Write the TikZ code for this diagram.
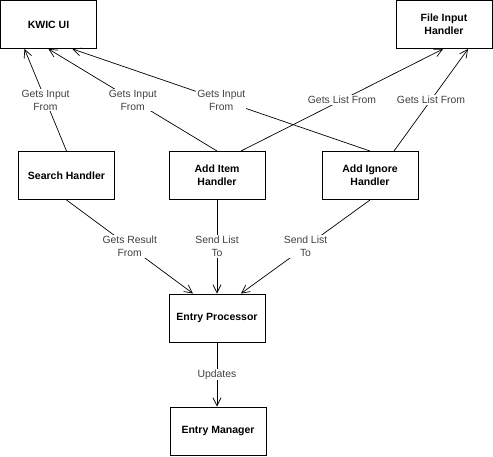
\documentclass[tikz,border=0pt]{standalone}
\usepackage{fontspec}
\setmainfont{Liberation Sans}
\usepackage{tikz}
\usetikzlibrary{arrows.meta}
\colorlet{linkText}{black!75}

\begin{document}
\begin{tikzpicture}[
  x=1pt,
  y=-1pt,
  component/.style={
    draw=black,
    line width=1pt,
    minimum width=96pt,
    minimum height=48pt,
    align=center,
    font=\fontsize{10.5}{12.7}\selectfont\bfseries,
  },
  link/.style={
    line width=0.7pt,
    -{Straight Barb[length=8pt,width=8pt]},
  },
  link label/.style={
    fill=white,
    inner sep=1pt,
    align=center,
    text=linkText,
    font=\fontsize{10.4}{13}\selectfont,
  }
]
\useasboundingbox (0,0) rectangle (493,456);
% boxes
\node[component] (kwic) at (48.5,24.5) {KWIC UI};
\node[component] (file) at (444,24.5) {File Input\\Handler};
\node[component] (search) at (66.5,175.5) {Search Handler};
\node[component] (item) at (217,175.5) {Add Item\\Handler};
\node[component] (ignore) at (370,175.5) {Add Ignore\\Handler};
\node[component] (proc) at (217,318) {Entry Processor};
\node[component] (mgr) at (218,431) {Entry Manager};
% upper links
\draw[link] (search.north) -- node[link label]{Gets Input\\From} ([xshift=-24pt]kwic.south);
\draw[link] (item.north) -- node[link label]{Gets Input\\From} (kwic.south);
\draw[link] (ignore.north) -- node[link label]{Gets Input\\From} ([xshift=24pt]kwic.south);
\draw[link] ([xshift=24pt]item.north) -- node[link label]{Gets List From} ([xshift=-1pt]file.south);
\draw[link] ([xshift=24pt]ignore.north) -- node[link label]{Gets List From} ([xshift=24pt]file.south);
% lower links
\foreach \src/\dx/\txt in {search/-24/{Gets Result\\From}, item/0/{Send List\\To}, ignore/24/{Send List\\To}}
  \draw[link] (\src.south) -- node[link label]{\txt} ([xshift=\dx pt]proc.south |- proc.north);
\draw[link] (proc.south) -- node[link label]{Updates} (mgr.north -| proc.south);
\end{tikzpicture}
\end{document}
